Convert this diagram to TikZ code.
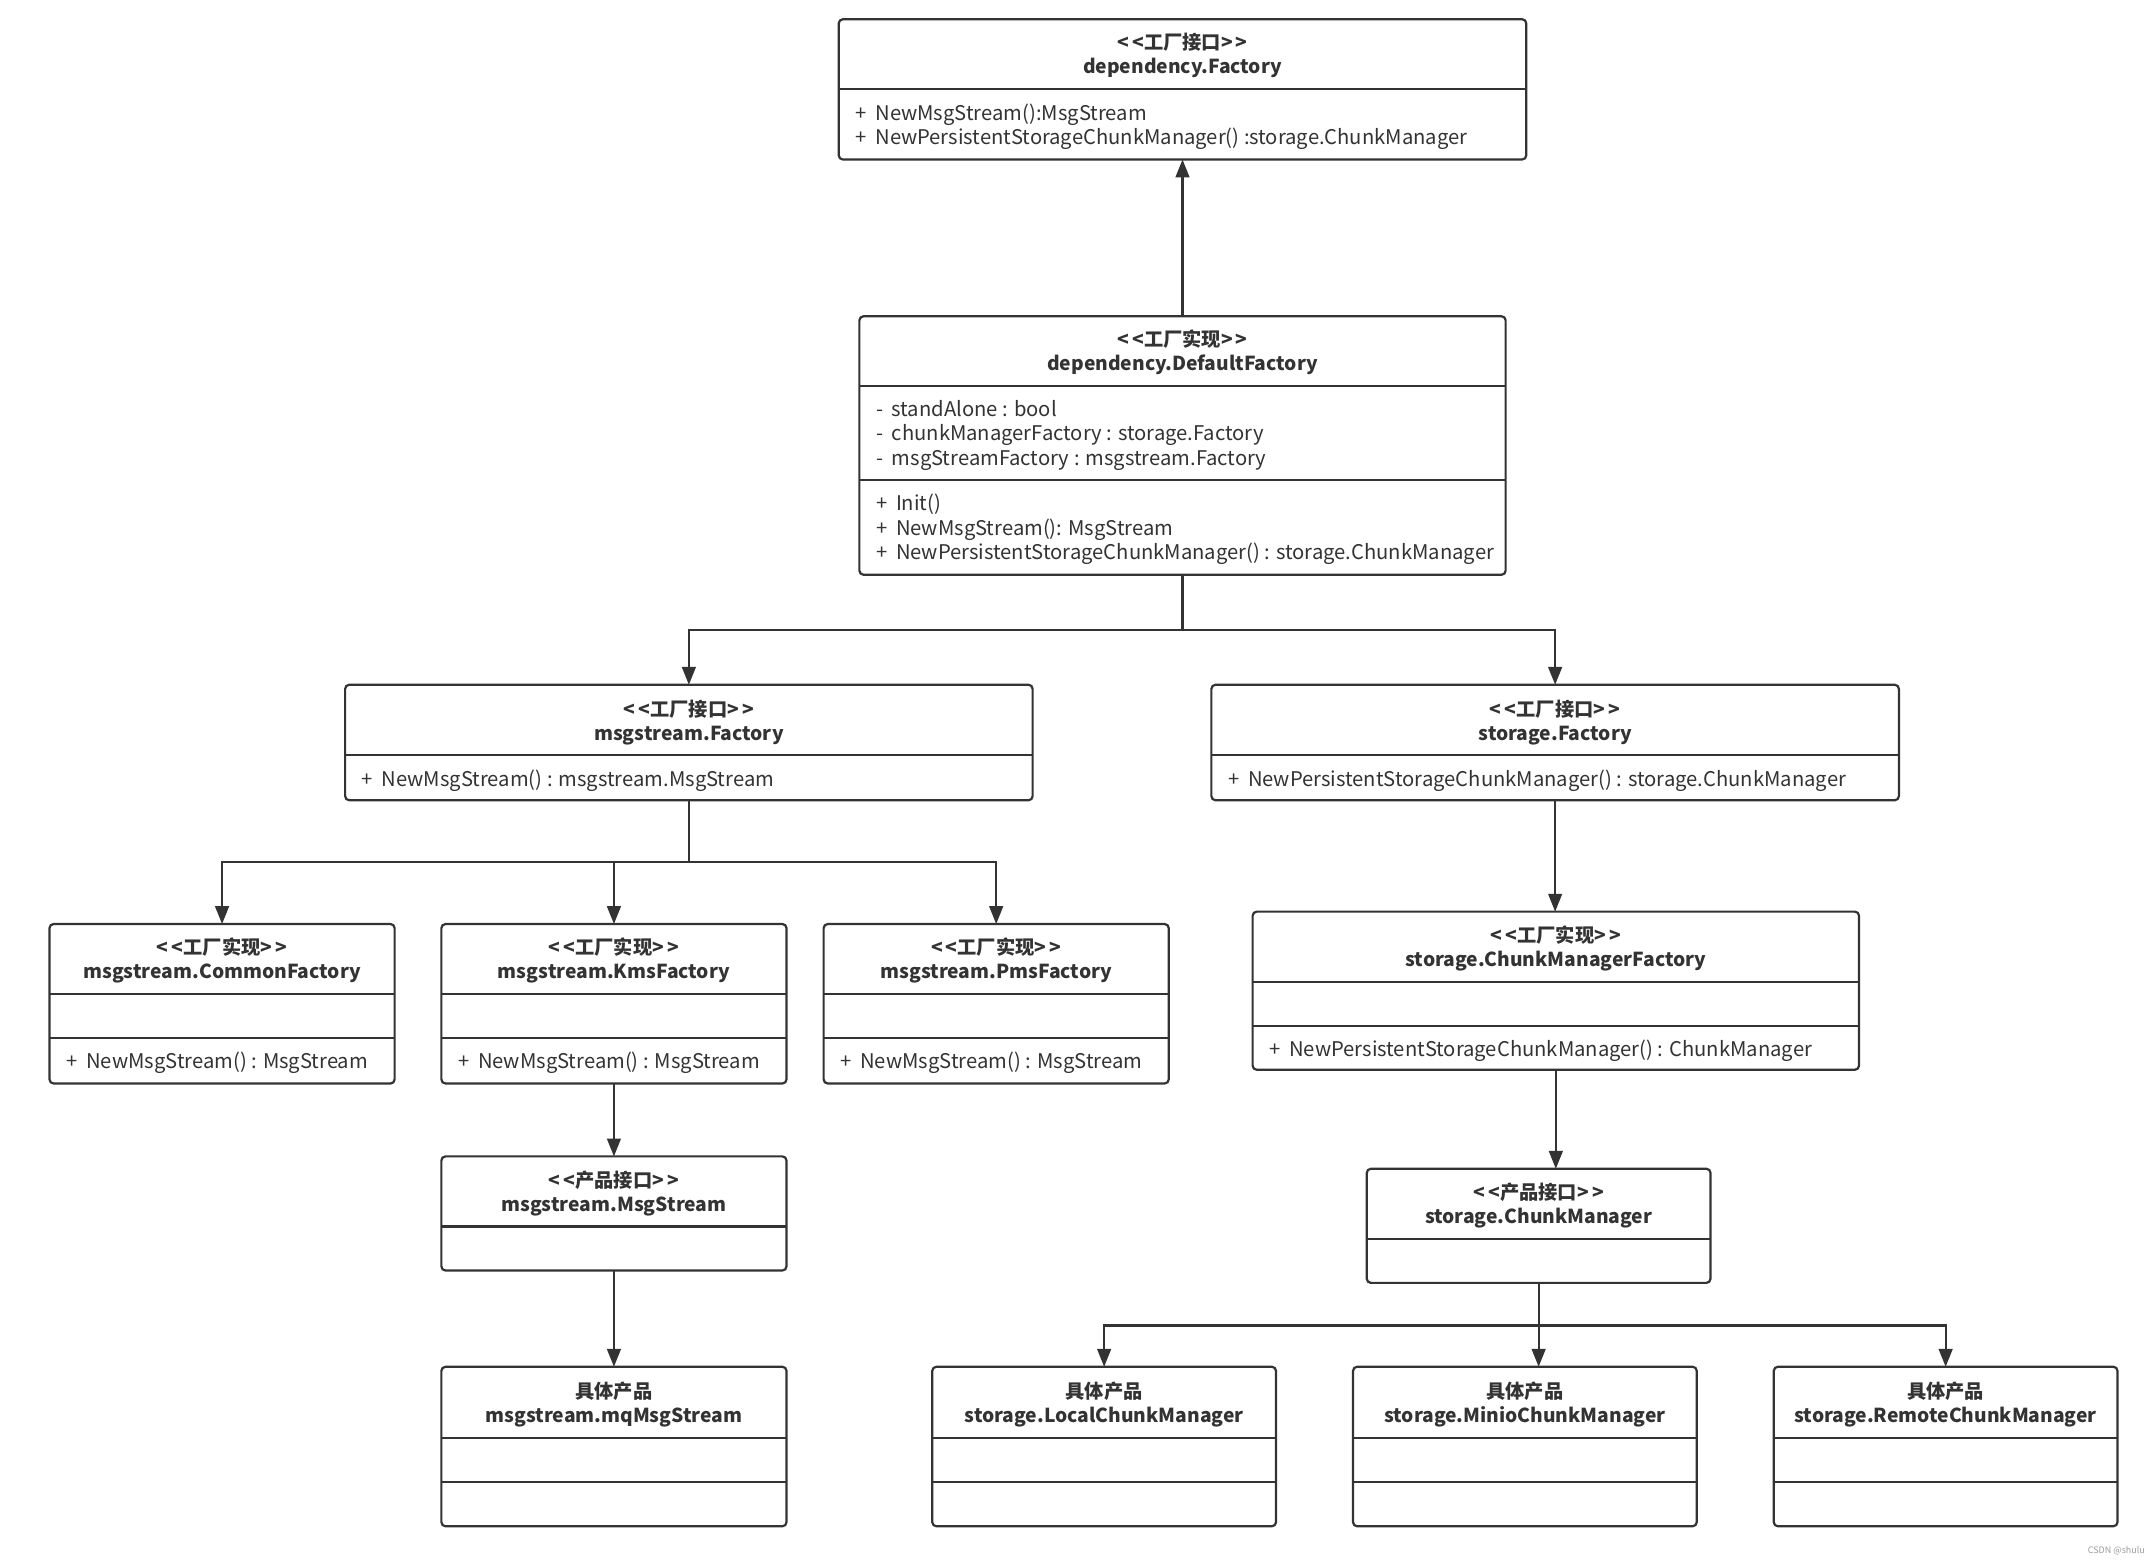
\documentclass[tikz,border=0pt]{standalone}
\usepackage{fontspec}
\setmainfont{Noto Sans CJK SC}[Ligatures=TeXOff]
\usetikzlibrary{arrows.meta}
\definecolor{ink}{HTML}{333333}
\definecolor{wm}{HTML}{9A9A9A}
\tikzset{
  cls/.style={draw=ink, line width=1.6pt, rounded corners=3pt, inner sep=0pt, outer sep=0pt, anchor=north west, fill=white},
  divl/.style={draw=ink, line width=1.6pt},
  ttl/.style={font=\bfseries\fontsize{14}{17.5}\selectfont, align=center, text=ink, inner sep=0pt},
  mem/.style={font=\fontsize{14.7}{17.8}\selectfont, align=left, text=ink, anchor=west, inner sep=0pt},
  arr/.style={draw=ink, line width=1.6pt, -{Triangle[length=13pt,width=10pt]}},
}
\newcommand\hdiv[2]{\draw[divl] (#1.west |- 0,#2) -- (#1.east |- 0,#2);}
\newcommand\st[1]{<\,<#1>\,>}
\newcommand\pl{+\kern3pt\ }
\newcommand\mi{-\kern3pt\ }
\begin{document}
\begin{tikzpicture}[x=1pt,y=-1pt]
\fill[white] (0,0) rectangle (1568,1138);
\useasboundingbox (0,0) rectangle (1568,1138);

% dependency.Factory
\node[cls, minimum width=500pt, minimum height=102pt] (F) at (610,14) {};
\hdiv{F}{65}
\node[ttl] (Ft) at (860,40.5) {\st{工厂接口}\\dependency.Factory};
\node[mem] (Fm) at (622,92) {\pl NewMsgStream():MsgStream\\\pl NewPersistentStorageChunkManager() :storage.ChunkManager};

% dependency.DefaultFactory
\node[cls, minimum width=470pt, minimum height=188pt] (DF) at (625,230) {};
\hdiv{DF}{281}
\hdiv{DF}{349}
\node[ttl] (DFt) at (860,256) {\st{工厂实现}\\dependency.DefaultFactory};
\node[mem] (DFa) at (637,316.5) {\mi standAlone : bool\\\mi chunkManagerFactory : storage.Factory\\\mi msgStreamFactory : msgstream.Factory};
\node[mem] (DFm) at (637,385) {\pl Init()\\\pl NewMsgStream(): MsgStream\\\pl NewPersistentStorageChunkManager() : storage.ChunkManager};

% msgstream.Factory
\node[cls, minimum width=500pt, minimum height=84pt] (MF) at (251,498) {};
\hdiv{MF}{549}
\node[ttl] (MFt) at (501,525.5) {\st{工厂接口}\\msgstream.Factory};
\node[mem] (MFm) at (263,568) {\pl NewMsgStream() : msgstream.MsgStream};

% storage.Factory
\node[cls, minimum width=500pt, minimum height=84pt] (SF) at (881,498) {};
\hdiv{SF}{549}
\node[ttl] (SFt) at (1131,525.5) {\st{工厂接口}\\storage.Factory};
\node[mem] (SFm) at (893,568) {\pl NewPersistentStorageChunkManager() : storage.ChunkManager};

% CommonFactory
\node[cls, minimum width=251pt, minimum height=116pt] (CF) at (36,672) {};
\hdiv{CF}{723}
\hdiv{CF}{755}
\node[ttl] (CFt) at (161.5,698.5) {\st{工厂实现}\\msgstream.CommonFactory};
\node[mem] (CFm) at (48,773) {\pl NewMsgStream() : MsgStream};

% KmsFactory
\node[cls, minimum width=251pt, minimum height=116pt] (KF) at (321,672) {};
\hdiv{KF}{723}
\hdiv{KF}{755}
\node[ttl] (KFt) at (446.5,698.5) {\st{工厂实现}\\msgstream.KmsFactory};
\node[mem] (KFm) at (333,773) {\pl NewMsgStream() : MsgStream};

% PmsFactory
\node[cls, minimum width=251pt, minimum height=116pt] (PF) at (599,672) {};
\hdiv{PF}{723}
\hdiv{PF}{755}
\node[ttl] (PFt) at (724.5,698.5) {\st{工厂实现}\\msgstream.PmsFactory};
\node[mem] (PFm) at (611,773) {\pl NewMsgStream() : MsgStream};

% ChunkManagerFactory
\node[cls, minimum width=441pt, minimum height=115pt] (CMF) at (911,663) {};
\hdiv{CMF}{714}
\hdiv{CMF}{746}
\node[ttl] (CMFt) at (1131.5,689.5) {\st{工厂实现}\\storage.ChunkManagerFactory};
\node[mem] (CMFm) at (923,764) {\pl NewPersistentStorageChunkManager() : ChunkManager};

% msgstream.MsgStream
\node[cls, minimum width=251pt, minimum height=83pt] (MS) at (321,841) {};
\hdiv{MS}{892}
\node[ttl] (MSt) at (446.5,868) {\st{产品接口}\\msgstream.MsgStream};

% mqMsgStream
\node[cls, minimum width=251pt, minimum height=116pt] (MQ) at (321,994) {};
\hdiv{MQ}{1046}
\hdiv{MQ}{1078}
\node[ttl] (MQt) at (446.5,1021.5) {具体产品\\msgstream.mqMsgStream};

% storage.ChunkManager
\node[cls, minimum width=250pt, minimum height=83pt] (CM) at (994,850) {};
\hdiv{CM}{901}
\node[ttl] (CMt) at (1119,876.5) {\st{产品接口}\\storage.ChunkManager};

% concrete chunk managers
\node[cls, minimum width=250pt, minimum height=116pt] (LC) at (678,994) {};
\hdiv{LC}{1046}
\hdiv{LC}{1078}
\node[ttl] (LCt) at (803,1021.5) {具体产品\\storage.LocalChunkManager};

\node[cls, minimum width=250pt, minimum height=116pt] (MC) at (984,994) {};
\hdiv{MC}{1046}
\hdiv{MC}{1078}
\node[ttl] (MCt) at (1109,1021.5) {具体产品\\storage.MinioChunkManager};

\node[cls, minimum width=250pt, minimum height=116pt] (RC) at (1290,994) {};
\hdiv{RC}{1046}
\hdiv{RC}{1078}
\node[ttl] (RCt) at (1415,1021.5) {具体产品\\storage.RemoteChunkManager};

% connectors
\draw[arr] (DF.north) -- (F.south);
\coordinate (j1) at (860,458);
\draw[arr] (DF.south) -- (j1) -| (MF.north);
\draw[arr] (j1) -| (SF.north);

\coordinate (j2) at (501,627);
\draw[arr] (MF.south) -- (j2) -| (CF.north);
\draw[arr] (j2) -| (KF.north);
\draw[arr] (j2) -| (PF.north);

\draw[arr] (SF.south) -- (SF.south |- CMF.north);
\draw[arr] (KF.south) -- (MS.north);
\draw[arr] (MS.south) -- (MQ.north);
\draw[arr] (CMF.south) -- (CMF.south |- CM.north);

\coordinate (j3) at (1119,964);
\draw[arr] (CM.south) -- (j3) -| (LC.north);
\draw[arr] (j3) -- (j3 |- MC.north);
\draw[arr] (j3) -| (RC.north);

\node[font=\fontsize{6.5}{7}\selectfont, text=wm, anchor=east, inner sep=0pt] (wmk) at (1560,1128) {CSDN @shulu};
\end{tikzpicture}
\end{document}
